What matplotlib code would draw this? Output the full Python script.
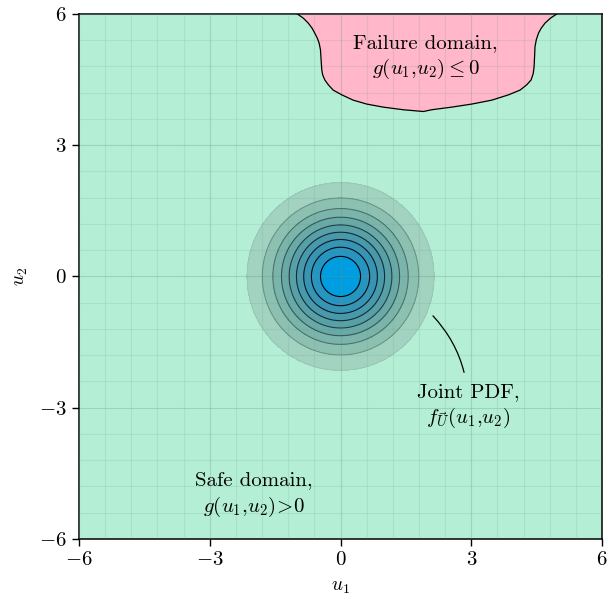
import matplotlib
matplotlib.use("Agg")
import matplotlib.pyplot as plt
import numpy as np

plt.rcParams['font.family'] = 'serif'
plt.rcParams['font.serif'] = ['cmr10']
plt.rcParams['mathtext.fontset'] = 'cm'
plt.rcParams['axes.formatter.use_mathtext'] = True

# failure domain boundary g(u1,u2)=0
fail_u1 = [-0.99, -0.85, -0.74, -0.65, -0.59, -0.53, -0.49, -0.46, -0.45, -0.44, -0.43,
           -0.41, -0.36, -0.28, -0.17, 0.03, 0.29, 0.60, 0.98, 1.44, 1.90,
           2.09, 2.55, 3.01, 3.47, 3.85, 4.12, 4.27, 4.37, 4.42, 4.44, 4.45, 4.46,
           4.49, 4.54, 4.60, 4.69, 4.81, 4.96]
fail_u2 = [6.00, 5.90, 5.79, 5.67, 5.56, 5.44, 5.33, 5.18, 5.02, 4.87, 4.72,
           4.61, 4.49, 4.38, 4.26, 4.15, 4.03, 3.94, 3.87, 3.81, 3.77,
           3.81, 3.87, 3.94, 4.03, 4.15, 4.26, 4.38, 4.49, 4.64, 4.80, 5.02, 5.25,
           5.41, 5.56, 5.67, 5.79, 5.90, 6.00]

ticks = [-6, -3, 0, 3, 6]
pdf_steps = 10  # equal steps from 0 to the peak density

bg = '#b3eed5'
pink = '#ffb7c9'
ring_colors = ['#a2d2c0', '#8cc1b2', '#7ab4aa', '#69aaa8', '#58a0a8', '#4899ac',
               '#3894b4', '#2894c0', '#009de0']

fig = plt.figure(figsize=(6.07, 5.98), dpi=100)
ax = fig.add_axes([0.130, 0.0987, 0.862, 0.878])
ax.set_facecolor(bg)

# joint standard normal pdf
u = np.linspace(-6, 6, 801)
U1, U2 = np.meshgrid(u, u)
F = np.exp(-(U1**2 + U2**2) / 2) / (2 * np.pi)
peak = 1 / (2 * np.pi)
levels = list(np.linspace(0, peak, pdf_steps + 1)[1:-1]) + [peak * 1.01]

ax.contourf(U1, U2, F, levels=levels, colors=ring_colors, zorder=2)
n = len(levels) - 1
for k in range(n):
    t = k / (n - 1)
    ax.contour(U1, U2, F, levels=[levels[k]], colors='black', linewidths=0.8,
               alpha=0.05 + 0.95 * t ** 0.8, zorder=3)

# failure domain
ax.fill(fail_u1, fail_u2, facecolor=pink, edgecolor='none', zorder=2)
ax.plot(fail_u1, fail_u2, color='black', lw=0.9, zorder=3)

ax.set_xlim(-6, 6)
ax.set_ylim(-6, 6)
ax.set_xticks(ticks)
ax.set_yticks(ticks)
ax.set_xticks(np.arange(-6, 6.01, 0.6), minor=True)
ax.set_yticks(np.arange(-6, 6.01, 0.6), minor=True)
ax.tick_params(which='minor', length=0)
ax.tick_params(which='major', labelsize=15, length=5, width=1, direction='out', pad=4)
ax.grid(which='major', color='#5f9c84', alpha=0.3, lw=0.8, zorder=4)
ax.grid(which='minor', color='#5f9c84', alpha=0.15, lw=0.8, zorder=4)
ax.set_axisbelow(False)
for s in ax.spines.values():
    s.set_linewidth(1.1)

ax.set_xlabel('$u_1$', fontsize=14, labelpad=6)
ax.set_ylabel('$u_2$', fontsize=14, labelpad=6)

ax.text(1.95, 5.0, 'Failure domain,\n$g(u_1{,}u_2) \\leq 0$', ha='center', va='center',
        fontsize=15, linespacing=1.3, zorder=5)
ax.text(-1.98, -5.0, 'Safe domain,\n$g(u_1{,}u_2)\\!>\\!0$', ha='center', va='center',
        fontsize=15, linespacing=1.3, zorder=5)
ax.annotate('Joint PDF,\n$f_{\\vec{U}}(u_1{,}u_2)$', xy=(2.12, -0.90), xytext=(2.92, -2.98),
            ha='center', va='center', fontsize=15, linespacing=1.3, zorder=5,
            arrowprops=dict(arrowstyle='-', color='black', lw=0.9, shrinkA=6, shrinkB=0,
                            connectionstyle='arc3,rad=0.2'))

fig.savefig('out.png', dpi=100)
